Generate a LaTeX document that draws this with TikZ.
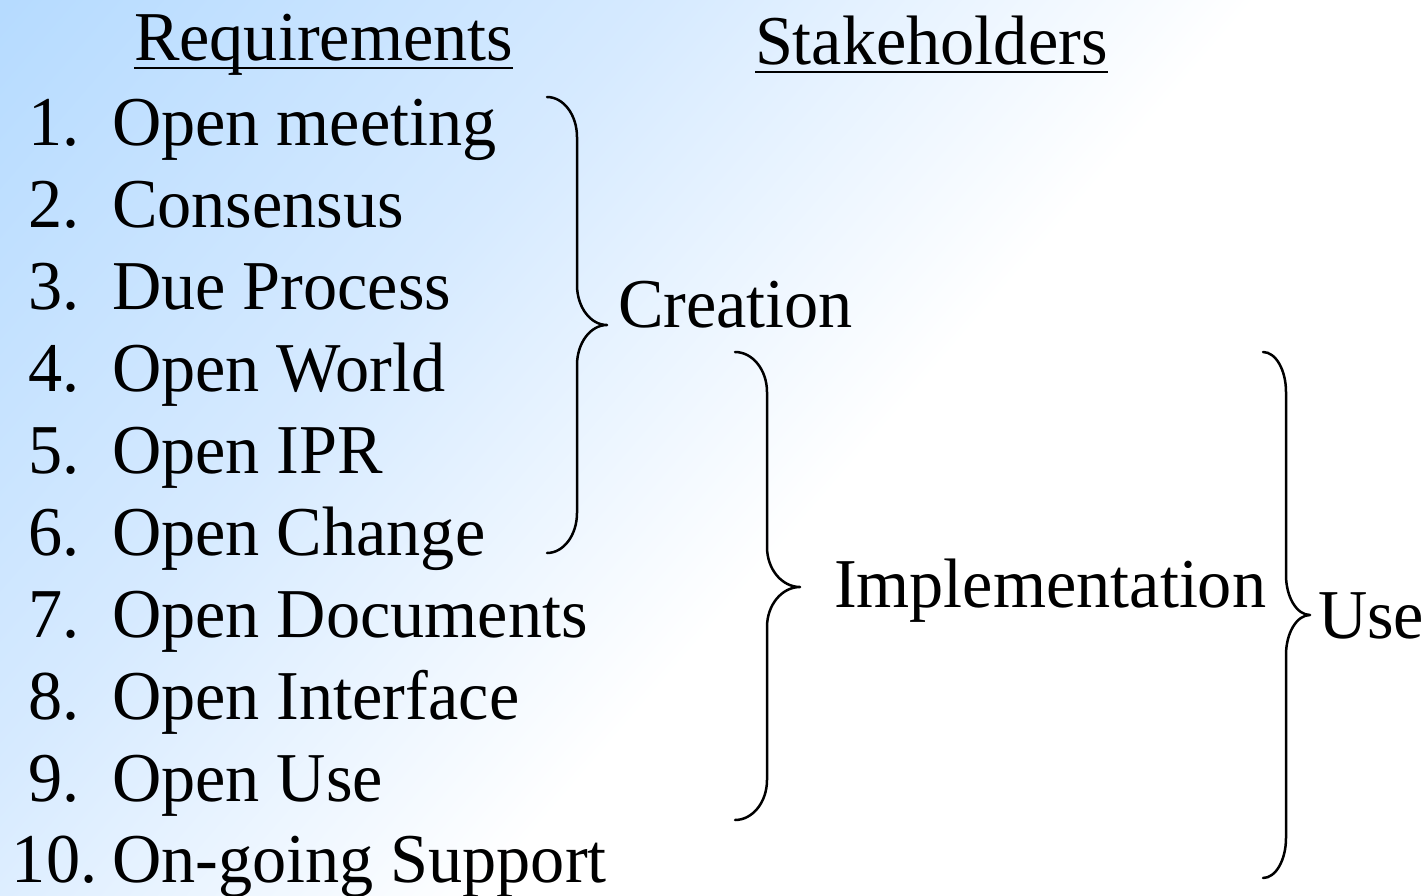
\documentclass[tikz,border=0pt]{standalone}
\usepackage{fontspec}
\setmainfont[FakeStretch=0.975]{Liberation Serif}

% slide background: light blue in the upper left fading to white
\definecolor{bgA}{RGB}{182,219,255}
\definecolor{bgB}{RGB}{214,234,255}
\pgfdeclarehorizontalshading{slidebg}{100bp}{%
  color(0bp)=(bgA); color(15bp)=(bgA); color(36bp)=(bgB);
  color(55bp)=(white); color(100bp)=(white)}

% right curly brace: left end x, spine x, tip x, top y, tip y, bottom y
\newcommand{\curlybrace}[6]{%
  \draw[bracestroke]
    (#1,#4) .. controls ({#1+0.552*(#2-#1)},#4) and (#2,{#4+0.448*\bracer}) .. (#2,{#4+\bracer})
    -- (#2,{#5-\bracer})
    .. controls (#2,{#5-0.448*\bracer}) and ({#3-0.552*(#3-#2)},#5) .. (#3,#5)
    .. controls ({#3-0.552*(#3-#2)},#5) and (#2,{#5+0.448*\bracer}) .. (#2,{#5+\bracer})
    -- (#2,{#6-\bracer})
    .. controls (#2,{#6-0.448*\bracer}) and ({#1+0.552*(#2-#1)},#6) .. (#1,#6);}
\newcommand{\bracer}{40}

\begin{document}
\begin{tikzpicture}[x=1pt,y=-1pt,
  txt/.style={anchor=base west,inner sep=0pt,outer sep=0pt,
    font=\fontsize{70}{84}\selectfont,text=black},
  uline/.style={line width=2.6pt,black},
  bracestroke/.style={line width=2.5pt,black,line cap=round,line join=round}]

\useasboundingbox (0,0) rectangle (1428,895);
\shade[shading=slidebg,shading angle=-40.9] (0,0) rectangle (1428,895);

% column headings
\node[txt] (req) at (134,60) {Requirements};
\node[txt] (stk) at (755,64) {Stakeholders};
\draw[uline] ([yshift=-8pt]req.base west) -- ([yshift=-8pt]req.base east);
\draw[uline] ([yshift=-8pt]stk.base west) -- ([yshift=-8pt]stk.base east);

% numbered list
\foreach \n/\t [count=\i from 0] in {1/Open meeting,2/Consensus,3/Due Process,
    4/Open World,5/Open IPR,6/Open Change,7/Open Documents,8/Open Interface,
    9/Open Use}{
  \node[txt] (num\n) at (28,{145+82*\i}) {\n.};
  \node[txt] (item\n) at (112,{145+82*\i}) {\t};
}
\node[txt] (num10) at (12,882) {10.};
\node[txt] (item10) at (112,882) {On-going Support};

% group labels
\node[txt] (creation) at (618,327) {Creation};
\node[txt] (impl) at (834,607) {Implementation};
\node[txt] (use) at (1318,638) {Use};

% grouping braces
\curlybrace{547}{577}{607}{97}{325}{553}
\curlybrace{735}{767}{800}{352}{587}{820}
\curlybrace{1263}{1286}{1310}{352}{615}{878}

\end{tikzpicture}
\end{document}
